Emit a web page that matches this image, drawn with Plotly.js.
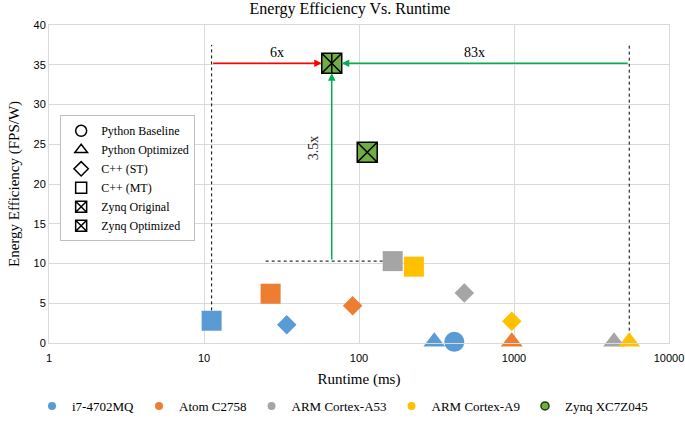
<!DOCTYPE html>
<html>
<head>
<meta charset="utf-8">
<script src="https://cdn.plot.ly/plotly-3.0.1.min.js"></script>
<style>html,body{margin:0;padding:0;background:#fff;}#chart{width:685px;height:421px;}</style>
</head>
<body>
<div id="chart"></div>
<script>
// ---- data ----
const processors = ['i7-4702MQ', 'Atom C2758', 'ARM Cortex-A53', 'ARM Cortex-A9'];
const procColors = ['#5B9BD5', '#ED7D31', '#A5A5A5', '#FFC000'];
const variants = ['Python Baseline', 'Python Optimized', 'C++ (ST)', 'C++ (MT)'];
const variantSymbols = ['circle', 'triangle-up', 'diamond', 'square'];
const variantSizes = [20, 19, 15, 20];
// runtime (ms) per processor, order: Python Baseline, Python Optimized, C++ (ST), C++ (MT)
const runtimeI7   = [412, 306, 34.2, 11.2];
const effI7       = [0.15, 0.15, 2.3, 2.8];
const runtimeAtom = [null, 967, 91, 26.9];
const effAtom     = [null, 0.15, 4.7, 6.2];
const runtimeA53  = [null, 4420, 478, 165];
const effA53      = [null, 0.15, 6.3, 10.3];
const runtimeA9   = [null, 5540, 967, 226];
const effA9       = [null, 0.15, 2.75, 9.6];
const zynqName = 'Zynq XC7Z045';
const zynqColor = '#70AD47';
const zynqVariants = ['Zynq Original', 'Zynq Optimized'];
const zynqRuntime = [113, 66.7];
const zynqEff = [24.0, 35.2];
const speedupLabels = ['6x', '83x', '3.5x'];
const xTickVals = [1, 10, 100, 1000, 10000];
const xTickText = ['1', '10', '100', '1000', '10000'];

const runtimes = [runtimeI7, runtimeAtom, runtimeA53, runtimeA9];
const effs = [effI7, effAtom, effA53, effA9];
const serif = 'Liberation Serif, Times New Roman, serif';
const sans = 'Liberation Sans, Arial, sans-serif';
const L = Math.log10;

const traces = [];
// processor data
processors.forEach((p, i) => {
  traces.push({
    type: 'scatter', mode: 'markers', name: p, showlegend: false, cliponaxis: false,
    x: runtimes[i], y: effs[i], hoverinfo: 'x+y',
    marker: {color: procColors[i], symbol: variantSymbols, size: variantSizes, opacity: 1,
             line: {width: 0}}
  });
});
// zynq
traces.push({
  type: 'scatter', mode: 'markers', name: zynqName, showlegend: false, cliponaxis: false,
  x: zynqRuntime, y: zynqEff,
  marker: {color: zynqColor, symbol: 'square-x', size: 20, opacity: 1, line: {color: '#000', width: 1.5}}
});
traces.push({
  type: 'scatter', mode: 'markers', showlegend: false, cliponaxis: false,
  x: [zynqRuntime[1]], y: [zynqEff[1]], hoverinfo: 'skip',
  marker: {color: '#000', symbol: 'line-ns-open', size: 14.3, opacity: 1, line: {color: '#000', width: 1.5}}
});

// guide dashed lines derived from data
const topGuide = 37.5;
const dashLine = {color: '#000', width: 1, dash: '3px,3px'};
traces.push({type: 'scatter', mode: 'lines', showlegend: false, hoverinfo: 'skip',
  x: [runtimeI7[3], runtimeI7[3]], y: [effI7[3] + 1.3, topGuide], line: dashLine});
traces.push({type: 'scatter', mode: 'lines', showlegend: false, hoverinfo: 'skip',
  x: [runtimeA9[1], runtimeA9[1]], y: [effA9[1] + 1.4, topGuide], line: dashLine});
traces.push({type: 'scatter', mode: 'lines', showlegend: false, hoverinfo: 'skip',
  x: [25, runtimeA53[3] * 0.86], y: [effA53[3], effA53[3]], line: dashLine});

// bottom legend (colors)
processors.concat([zynqName]).forEach((p, i) => {
  const isZ = i === 4;
  traces.push({type: 'scatter', mode: 'markers', name: p, x: [null], y: [null],
    legend: 'legend',
    marker: {symbol: 'circle', size: 8, color: isZ ? zynqColor : procColors[i],
             line: {color: isZ ? '#1e3a10' : procColors[i], width: isZ ? 1.5 : 0}}});
});
// symbol legend (inside plot)
const legSymbols = ['circle-open', 'triangle-up-open', 'diamond-open', 'square-open', 'square-x-open', 'square-x-open'];
variants.concat(zynqVariants).forEach((v, i) => {
  traces.push({type: 'scatter', mode: 'markers', name: v, x: [null], y: [null],
    legend: 'legend2',
    marker: {symbol: legSymbols[i], size: 11, color: '#000', line: {color: '#000', width: 1.5}}});
});

const annotations = [
  {x: L(zynqRuntime[1]), y: zynqEff[1], ax: L(runtimeI7[3]), ay: zynqEff[1], axref: 'x', ayref: 'y',
   xref: 'x', yref: 'y', text: '', showarrow: true, arrowcolor: '#FF0000', arrowwidth: 1.5, arrowhead: 2, arrowsize: 1, standoff: 10},
  {x: L(zynqRuntime[1]), y: zynqEff[1], ax: L(runtimeA9[1]), ay: zynqEff[1], axref: 'x', ayref: 'y',
   xref: 'x', yref: 'y', text: '', showarrow: true, arrowcolor: '#00B050', arrowwidth: 1.5, arrowhead: 2, arrowsize: 1, standoff: 10},
  {x: L(zynqRuntime[1]), y: zynqEff[1], ax: L(zynqRuntime[1]), ay: effA53[3], axref: 'x', ayref: 'y',
   xref: 'x', yref: 'y', text: '', showarrow: true, arrowcolor: '#00B050', arrowwidth: 1.5, arrowhead: 2, arrowsize: 1, standoff: 10},
  {x: L(29.4), y: 36.6, xref: 'x', yref: 'y', text: speedupLabels[0], showarrow: false,
   font: {family: serif, size: 14, color: '#000'}},
  {x: L(560), y: 36.6, xref: 'x', yref: 'y', text: speedupLabels[1], showarrow: false,
   font: {family: serif, size: 14, color: '#000'}},
  {x: L(50.5), y: 24.5, xref: 'x', yref: 'y', text: speedupLabels[2], showarrow: false, textangle: -90,
   font: {family: serif, size: 14, color: '#2a1a2a'}}
];

const layout = {
  width: 685, height: 421,
  margin: {l: 49, r: 16, t: 25, b: 48},
  paper_bgcolor: '#fff', plot_bgcolor: '#fff',
  font: {family: serif, color: '#000'},
  title: {text: 'Energy Efficiency Vs. Runtime', font: {family: serif, size: 16, color: '#000'},
          x: 0.511, xanchor: 'center', y: 0.98, yanchor: 'middle'},
  xaxis: {type: 'log', range: [0, 4], tickvals: xTickVals, ticktext: xTickText,
          showgrid: true, gridcolor: '#d9d9d9', gridwidth: 1, zeroline: false,
          showline: true, linecolor: '#d9d9d9', mirror: true, ticks: 'outside', ticklen: 5, tickcolor: 'rgba(0,0,0,0)',
          tickfont: {family: sans, size: 11, color: '#000'},
          title: {text: 'Runtime (ms)', font: {family: serif, size: 15, color: '#000'}, standoff: 10}},
  yaxis: {range: [0, 40], dtick: 5, tick0: 0,
          showgrid: true, gridcolor: '#d9d9d9', gridwidth: 1, zeroline: false,
          showline: true, linecolor: '#d9d9d9', mirror: true, ticks: '',
          tickfont: {family: sans, size: 11, color: '#000'},
          title: {text: 'Energy Efficiency (FPS/W)', font: {family: serif, size: 15, color: '#000'}, standoff: 10}},
  legend: {orientation: 'h', xref: 'container', yref: 'container', x: 0.5, xanchor: 'center', y: 0.0, yanchor: 'bottom',
           font: {family: serif, size: 13, color: '#000'}, bgcolor: 'rgba(0,0,0,0)', itemclick: false},
  legend2: {x: 0.018, xanchor: 'left', y: 0.518, yanchor: 'middle', bgcolor: '#fff',
            bordercolor: '#bfbfbf', borderwidth: 1, font: {family: serif, size: 12, color: '#000'},
            tracegroupgap: 0},
  annotations: annotations,
  showlegend: true
};

Plotly.newPlot('chart', traces, layout, {displayModeBar: false, staticPlot: true});
</script>
</body>
</html>
